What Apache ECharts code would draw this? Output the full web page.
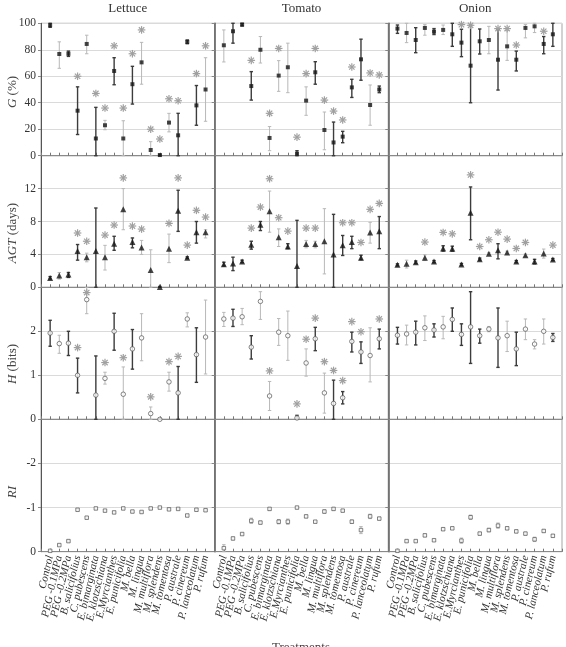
<!DOCTYPE html>
<html>
<head>
<meta charset="utf-8">
<script src="https://cdn.jsdelivr.net/npm/echarts@6/dist/echarts.min.js"></script>
<style>
  html, body { margin: 0; padding: 0; background: #fff; }
  #chart { width: 566px; height: 647px; }
</style>
</head>
<body>
<div id="chart"></div>
<script>
  const treatments = ['Control', 'PEG -0.1MPa', 'PEG -0.2MPa', 'B. salicifolius', 'C. pubescens',
    'E. bimarginata', 'E. klotzschiana', 'E.Myrcianthes', 'E. punicifolia', 'M. bella', 'M. lingua',
    'M. multiflora', 'M. splendens', 'M. tomentosa', 'P. australe', 'P. cinereum', 'P. lanceolatum', 'P. rufum']
  const crops = ['Lettuce', 'Tomato', 'Onion']

  // each row: [mean, low, high, asterisk (null = none)]
  const lettuceG = [[98.5, 97, 100, null], [76.8, 66, 86, null], [77, 75, 79, null], [34, 16, 52, 60], [84.4, 77, 91, null],
    [13, 0, 36.5, 47], [23, 19.6, 26.7, 36], [64, 53.6, 74, 83], [13, 0, 26.4, 36], [54, 39, 67.5, 77], [70.5, 54, 85.6, 95],
    [4.3, 0, 10.6, 20], [0.5, 0, 1, 12.6], [25, 18, 32, 43], [15.4, 0, 32, 41.5], [86, 84.6, 87.4, null], [38, 23, 53, 62], [50, 26, 74, 83]]
  const tomatoG = [[83.4, 70.8, 95, null], [94, 85, 100, null], [99, 98, 100, null], [52.6, 42, 63.5, 72], [80, 70, 90, null],
    [13.4, 3.8, 22, 32], [60.5, 48.6, 71.8, 81], [66.8, 47.6, 85, null], [1.5, 0, 3.8, 14], [41.6, 30.5, 52, 62], [63, 54, 71, 81],
    [19.4, 4.5, 33, 42], [10, 0, 25.4, 33.7], [14.4, 9.8, 18.4, 27], [51.6, 44, 57.7, 67], [72.8, 57, 88, null], [38.3, 23, 53.4, 62.5], [50, 47.6, 52.6, 61]]
  const onionG = [[96, 92.4, 98.7, null], [92.7, 85.4, 100, null], [87.4, 77.8, 96.7, null], [96.5, 91, 99, null], [93.7, 91.5, 96, null],
    [95, 91.5, 98.7, null], [91.7, 82.6, 100, null], [85.4, 74.8, 95.5, 99], [68, 40, 98.7, 98.5], [86.4, 76.8, 95.7, null], [87.4, 77, 97.7, null],
    [72.5, 49.6, 95.5, 96], [82.6, 72, 94.5, 96], [72.5, 64, 79, 83.6], [96.5, 89, 99, null], [97.7, 93, 100, null], [84.4, 77, 90, 94], [91.7, 82.6, 100, null]]

  const lettuceAGT = [[1.14, 1.0, 1.3, null], [1.42, 1.0, 1.8, null], [1.55, 1.2, 1.8, null], [4.4, 3.3, 5.2, 6.6], [3.66, 3.1, 4.15, 5.6],
    [4.4, 0, 9.64, null], [3.66, 2.1, 5.1, 6.35], [5.3, 4.5, 6.2, 7.57], [9.5, 7, 12, 13.3], [5.5, 4.8, 6.0, 7.45], [4.84, 4.0, 5.7, 7.08],
    [2.1, 0, 4.56, null], [0.05, 0, 0.1, null], [4.7, 3.0, 6.47, 7.77], [9.3, 6.8, 11.8, 13.3], [3.6, 3.5, 3.7, 5.13], [6.7, 5.37, 8.0, 9.36], [6.7, 6.0, 7.0, 8.54]]
  const tomatoAGT = [[2.8, 2.6, 3.05, null], [2.9, 2.03, 3.66, null], [3.13, 3.0, 3.3, null], [5.17, 4.64, 5.6, 7.2], [7.6, 6.9, 8.0, 9.76],
    [9.24, 6.7, 11.7, 13.2], [6.1, 4.96, 7.1, 8.46], [4.96, 4.7, 5.3, 6.83], [2.6, 0, 8.14, null], [5.25, 4.8, 5.7, 7.2], [5.25, 4.8, 5.6, 7.2],
    [5.6, 1.63, 9.56, null], [4.0, 0, 8.87, null], [5.1, 3.87, 6.3, 7.85], [5.5, 4.7, 6.2, 7.85], [3.6, 3.35, 3.9, 5.45], [6.67, 5.37, 7.9, 9.48], [6.8, 4.7, 8.6, 10.2]]
  const onionAGT = [[2.73, 2.6, 2.85, null], [2.85, 2.35, 3.3, null], [3.05, 2.9, 3.2, null], [3.6, 3.25, 3.95, 5.5], [3.13, 3.0, 3.25, null],
    [4.72, 4.4, 5.05, 6.67], [4.68, 4.4, 5.0, 6.5], [2.77, 2.65, 2.9, null], [9.07, 5.78, 12.2, 13.67], [3.42, 3.3, 3.55, 4.96], [4.07, 3.95, 4.2, 5.78],
    [4.5, 3.46, 5.3, 6.7], [4.23, 4.05, 4.4, 5.86], [3.13, 3.0, 3.25, 4.72], [3.9, 3.75, 4.05, 5.45], [3.13, 2.85, 3.4, null], [4.1, 3.55, 4.65, null], [3.38, 3.25, 3.5, 5.13]]

  const lettuceH = [[1.96, 1.66, 2.25, null], [1.72, 1.5, 1.91, null], [1.73, 1.45, 2.0, null], [1.0, 0.6, 1.39, 1.63], [2.72, 2.4, 3.0, 2.88],
    [0.55, 0, 1.44, null], [0.93, 0.8, 1.07, 1.29], [2.0, 1.57, 2.41, null], [0.57, 0, 1.19, 1.4], [1.6, 1.14, 2.04, null], [1.85, 1.33, 2.4, null],
    [0.13, 0, 0.28, 0.51], [0.0, 0, 0.02, null], [0.85, 0.64, 1.07, 1.31], [0.6, 0, 1.2, 1.43], [2.28, 2.1, 2.42, null], [1.47, 0.84, 2.08, null], [1.87, 1.03, 2.71, null]]
  const tomatoH = [[2.28, 2.11, 2.43, null], [2.3, 2.11, 2.5, null], [2.33, 2.15, 2.52, null], [1.64, 1.37, 1.9, null], [2.68, 2.27, 2.9, null],
    [0.53, 0.2, 0.86, 1.1], [1.98, 1.68, 2.29, null], [1.9, 1.34, 2.46, null], [0.03, 0, 0.09, 0.35], [1.28, 0.98, 1.6, 1.82], [1.83, 1.56, 2.09, 2.3],
    [0.6, 0.14, 1.05, 1.31], [0.36, 0, 0.89, 1.11], [0.49, 0.35, 0.63, 0.88], [1.77, 1.53, 1.98, 2.22], [1.53, 1.27, 1.76, 1.99], [1.45, 0.85, 2.08, null], [1.83, 1.6, 2.05, 2.28]]
  const onionH = [[1.91, 1.71, 2.09, null], [1.94, 1.69, 2.14, null], [1.98, 1.69, 2.23, null], [2.08, 1.79, 2.35, null], [2.03, 1.87, 2.17, null],
    [2.1, 1.83, 2.34, null], [2.27, 2.0, 2.53, null], [1.93, 1.68, 2.17, null], [2.1, 1.27, 2.9, null], [1.9, 1.73, 2.05, null], [2.05, 1.99, 2.11, null],
    [1.85, 1.18, 2.53, null], [1.9, 1.54, 2.23, null], [1.6, 1.22, 1.98, null], [2.05, 1.81, 2.28, null], [1.71, 1.6, 1.81, null], [2.0, 1.71, 2.28, null], [1.86, 1.77, 1.95, null]]

  const lettuceRI = [[-0.02, -0.03, -0.01, null], [-0.15, -0.17, -0.13, null], [-0.24, -0.26, -0.22, null], [-0.95, -0.97, -0.93, null], [-0.77, -0.79, -0.75, null],
    [-0.98, -1.0, -0.96, null], [-0.93, -0.95, -0.91, null], [-0.89, -0.91, -0.87, null], [-0.98, -1.0, -0.96, null], [-0.91, -0.93, -0.89, null], [-0.9, -0.92, -0.88, null],
    [-0.98, -1.0, -0.96, null], [-1.0, -1.01, -0.99, null], [-0.96, -0.98, -0.94, null], [-0.97, -0.99, -0.95, null], [-0.82, -0.84, -0.8, null], [-0.95, -0.97, -0.93, null], [-0.94, -0.96, -0.92, null]]
  const tomatoRI = [[-0.08, -0.16, 0, null], [-0.3, -0.33, -0.27, null], [-0.4, -0.42, -0.38, null], [-0.7, -0.76, -0.64, null], [-0.66, -0.69, -0.63, null],
    [-0.97, -1.0, -0.94, null], [-0.68, -0.73, -0.63, null], [-0.68, -0.74, -0.62, null], [-1.0, -1.02, -0.98, null], [-0.8, -0.83, -0.77, null], [-0.68, -0.7, -0.66, null],
    [-0.91, -0.95, -0.87, null], [-0.97, -1.0, -0.94, null], [-0.93, -0.95, -0.91, null], [-0.68, -0.72, -0.64, null], [-0.49, -0.57, -0.41, null], [-0.8, -0.85, -0.75, null], [-0.75, -0.78, -0.72, null]]
  const onionRI = [[-0.02, -0.03, -0.01, null], [-0.24, -0.26, -0.22, null], [-0.24, -0.26, -0.22, null], [-0.37, -0.4, -0.34, null], [-0.26, -0.28, -0.24, null],
    [-0.51, -0.54, -0.48, null], [-0.53, -0.55, -0.51, null], [-0.25, -0.31, -0.19, null], [-0.78, -0.83, -0.73, null], [-0.41, -0.44, -0.38, null], [-0.49, -0.53, -0.45, null],
    [-0.59, -0.65, -0.53, null], [-0.53, -0.56, -0.5, null], [-0.46, -0.49, -0.43, null], [-0.41, -0.44, -0.38, null], [-0.28, -0.33, -0.23, null], [-0.47, -0.5, -0.44, null], [-0.36, -0.39, -0.33, null]]

  // error bar tone per treatment: D = dark bar, L = light bar
  const toneG = ['DLDDLDLDLDLLDLDDDL', 'LDDDLLLLDLDLDDDDLD', 'DLDLDLDDDDLDLDLLDD']
  const toneAGT = ['DLDDLDLDLDLLDLDDDL', 'DDDDDLLDDLLLDDDDLD', 'DLDLDDDDDDLDLDLDLD']
  const toneH = ['DLDDLDLDLDLLDLDLDL', 'LDLDLLLLDLDLDDDDLD', 'DLDLDLDDDDLDLDLLLD']
  const toneRI = ['LLLLLLLLLLLLLLLLLL', 'LLLLLLLLLLLLLLLLLL', 'LLLLLLLLLLLLLLLLLL']

  const panels = [
    [lettuceG, tomatoG, onionG],
    [lettuceAGT, tomatoAGT, onionAGT],
    [lettuceH, tomatoH, onionH],
    [lettuceRI, tomatoRI, onionRI]
  ]
  const tones = [toneG, toneAGT, toneH, toneRI]

  const serif = 'Liberation Serif'
  const metrics = [
    {name: 'G', unit: ' (%)', min: 0, max: 100, step: 20, hide: null, symbol: 'rect', size: 4, hollow: false, nameY: 92},
    {name: 'AGT', unit: ' (days)', min: 0, max: 16, step: 4, hide: 16, symbol: 'triangle', size: 6, hollow: false, nameY: 233},
    {name: 'H', unit: ' (bits)', min: 0, max: 3, step: 1, hide: 3, symbol: 'circle', size: 4.5, hollow: true, nameY: 364},
    {name: 'RI', unit: '', min: -3, max: 0, step: 1, hide: -3, inverse: true, symbol: 'rect', size: 3.5, hollow: true, nameY: 492}
  ]
  const colLeft = [41, 214.7, 388.3]
  const colWidth = 173.7
  const rowTop = [23.3, 155.7, 287.3, 419.3]
  const rowBottom = [155.7, 287.3, 419.3, 551.7]

  function clampY(y, cs) {
    return Math.max(cs.y, Math.min(cs.y + cs.height, y))
  }

  // 误差线
  function renderBar(params, api) {
    const cs = params.coordSys
    const x = api.value(0)
    const a = api.coord([x, api.value(2)])
    const b = api.coord([x, api.value(1)])
    const y1 = clampY(a[1], cs)
    const y2 = clampY(b[1], cs)
    const dark = api.value(3) === 1
    const style = {stroke: dark ? '#3c3c3c' : '#b8b8b8', lineWidth: dark ? 1.4 : 1}
    const cap = 1.7
    return {
      type: 'group',
      children: [
        {type: 'line', shape: {x1: a[0], y1: y1, x2: a[0], y2: y2}, style: style},
        {type: 'line', shape: {x1: a[0] - cap, y1: y1, x2: a[0] + cap, y2: y1}, style: style},
        {type: 'line', shape: {x1: a[0] - cap, y1: y2, x2: a[0] + cap, y2: y2}, style: style}
      ]
    }
  }

  // 显著性星号
  function renderStar(params, api) {
    const p = api.coord([api.value(0), api.value(1)])
    const r = 3.8
    const children = [0, 45, 90, 135].map(deg => {
      const t = deg * Math.PI / 180
      return {
        type: 'line',
        shape: {x1: p[0] - r * Math.cos(t), y1: p[1] - r * Math.sin(t), x2: p[0] + r * Math.cos(t), y2: p[1] + r * Math.sin(t)},
        style: {stroke: '#a0a0a0', lineWidth: 1.2}
      }
    })
    return {type: 'group', children: children}
  }

  const grids = []
  const xAxes = []
  const yAxes = []
  const series = []

  metrics.forEach((m, r) => {
    crops.forEach((crop, c) => {
      const idx = grids.length
      const rows = panels[r][c]
      const tone = tones[r][c]
      grids.push({
        left: colLeft[c], top: rowTop[r], width: colWidth, height: rowBottom[r] - rowTop[r],
        show: true, borderColor: '#a5a5a5', borderWidth: 1
      })
      xAxes.push({
        gridIndex: idx, type: 'value', min: 0, max: 19, interval: 1,
        axisLine: {show: true, lineStyle: {color: '#8a8a8a', width: 1}},
        axisTick: {show: true, inside: true, length: 3, lineStyle: {color: '#777'}},
        splitLine: {show: false},
        axisLabel: r === 3 ? {
          show: true, rotate: 77, margin: 4, fontSize: 11, fontStyle: 'italic', fontFamily: serif, color: '#333',
          formatter: v => (v >= 1 && v <= 18) ? treatments[v - 1] : ''
        } : {show: false}
      })
      yAxes.push({
        gridIndex: idx, type: 'value', min: m.min, max: m.max, interval: m.step, inverse: !!m.inverse,
        axisLine: {show: true, lineStyle: {color: c === 0 ? '#555' : '#666', width: c === 0 ? 1 : 1.6}},
        axisTick: {show: true, length: 3, lineStyle: {color: '#888'}},
        splitLine: {show: true, lineStyle: {color: '#dadada', width: 1}},
        axisLabel: c === 0 ? {
          show: true, margin: 5, fontSize: 11.5, fontFamily: serif, color: '#333',
          formatter: v => v === m.hide ? '' : String(v)
        } : {show: false}
      })
      series.push({
        type: 'custom', xAxisIndex: idx, yAxisIndex: idx, renderItem: renderBar, silent: true,
        encode: {x: 0, y: [1, 2]},
        data: rows.map((d, i) => [i + 1, d[1], d[2], tone[i] === 'D' ? 1 : 0]),
        z: 2
      })
      series.push({
        type: 'custom', xAxisIndex: idx, yAxisIndex: idx, renderItem: renderStar, silent: true,
        encode: {x: 0, y: 1},
        data: rows.map((d, i) => [i + 1, d[3]]).filter(d => d[1] !== null),
        z: 3
      })
      series.push({
        type: 'scatter', xAxisIndex: idx, yAxisIndex: idx, silent: true,
        symbol: m.symbol, symbolSize: m.size,
        itemStyle: m.hollow ? {color: '#fff', borderColor: '#555', borderWidth: 0.9} : {color: '#151515'},
        data: rows.map((d, i) => [i + 1, d[0]]),
        z: 4
      })
    })
  })

  const graphics = []
  crops.forEach((crop, c) => {
    graphics.push({
      type: 'text', x: colLeft[c] + colWidth / 2, y: 9,
      style: {text: crop, font: '13px "Liberation Serif"', fill: '#333', textAlign: 'center', textVerticalAlign: 'middle'}
    })
  })
  metrics.forEach(m => {
    graphics.push({
      type: 'text', x: 13, y: m.nameY, rotation: Math.PI / 2,
      style: {
        text: '{i|' + m.name + '}' + m.unit,
        font: '13px "Liberation Serif"', fill: '#444', textAlign: 'center', textVerticalAlign: 'middle',
        rich: {i: {fontStyle: 'italic', fontFamily: serif, fontSize: 13, fill: '#444'}}
      }
    })
  })
  graphics.push({
    type: 'text', x: 301, y: 641,
    style: {text: 'Treatments', font: '13px "Liberation Serif"', fill: '#444', textAlign: 'center', textVerticalAlign: 'top'}
  })

  const myChart = echarts.init(document.getElementById('chart'))
  myChart.setOption({
    animation: false,
    backgroundColor: '#fff',
    grid: grids,
    xAxis: xAxes,
    yAxis: yAxes,
    graphic: graphics,
    series: series
  })
</script>
</body>
</html>
